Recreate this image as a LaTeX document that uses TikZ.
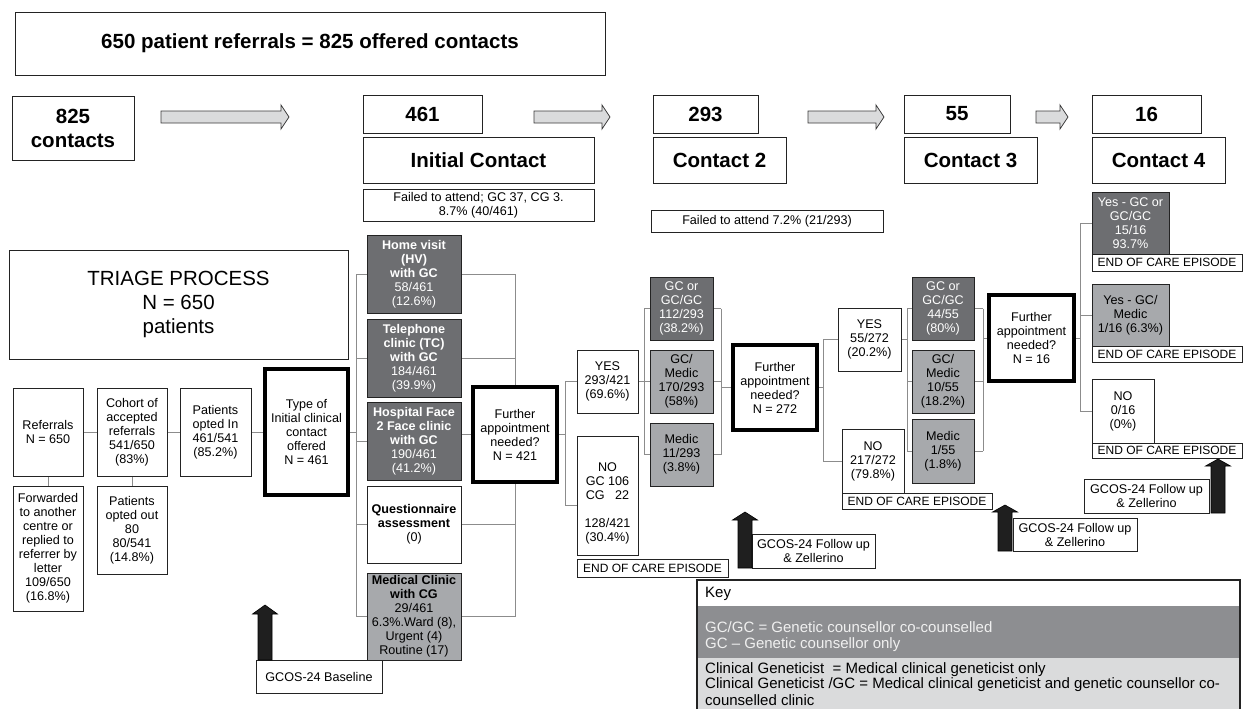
\documentclass[tikz,border=0pt]{standalone}
\usepackage{fontspec}
\setmainfont{Liberation Sans}
\usetikzlibrary{backgrounds,calc}
\definecolor{darkfill}{RGB}{109,110,113}
\definecolor{lightfill}{RGB}{167,169,172}
\definecolor{keydark}{RGB}{141,142,145}
\definecolor{keylight}{RGB}{218,219,220}
\definecolor{keytext}{RGB}{240,240,240}
\definecolor{arrowfill}{RGB}{218,219,220}
\definecolor{arrowedge}{RGB}{60,60,60}
\definecolor{connc}{RGB}{140,140,140}
\definecolor{boxc}{RGB}{35,35,35}
\newcommand{\fsm}{\fontsize{12.6}{14}\selectfont}
\newcommand{\flg}{\fontsize{20.5}{24}\selectfont}
\newcommand{\fend}{\fontsize{12}{14}\selectfont}
\newcommand{\fkey}{\fontsize{15}{17}\selectfont}
\newcommand{\mybox}[7]{\node[#6, minimum width={(#4)-(#2)}, minimum height={(#5)-(#3)}] (#1) at ({((#2)+(#4))/2},{((#3)+(#5))/2}) {#7};}
\newcommand{\garr}[3]{\draw[garrow] (#1,#3-6) -- (#2-8,#3-6) -- (#2-8,#3-12) -- (#2,#3) -- (#2-8,#3+12) -- (#2-8,#3+6) -- (#1,#3+6) -- cycle;}
\newcommand{\barr}[4]{\draw[barrow] (#1-7,#4) -- (#1-7,#3) -- (#1-12.5,#3) -- (#1,#2) -- (#1+12.5,#3) -- (#1+7,#3) -- (#1+7,#4) -- cycle;}
\tikzset{
  bx/.style={draw=boxc, line width=0.9pt, fill=white, inner sep=0pt, outer sep=0pt, align=center, font=\fsm, text=black},
  thk/.style={bx, line width=3.5pt, draw=black},
  dk/.style={bx, fill=darkfill, text=white},
  lt/.style={bx, fill=lightfill},
  hd/.style={bx, font=\flg\bfseries},
  bigtxt/.style={bx, font=\flg},
  endb/.style={bx, font=\fend},
  band/.style={inner sep=0pt, outer sep=0pt, draw=none},
  keytxt/.style={anchor=west, inner sep=0pt, font=\fkey, text=black},
  conn/.style={draw=connc, line width=1pt},
  garrow/.style={draw=arrowedge, fill=arrowfill, line width=0.8pt},
  barrow/.style={draw=black, fill=black!88, line width=0.6pt},
}
\begin{document}
\begin{tikzpicture}[x=1pt,y=-1pt]
\useasboundingbox (0,0) rectangle (1246,709);
% header row
\mybox{top}{15}{12}{605}{75}{hd}{650 patient referrals = 825 offered contacts}
\mybox{c825}{12}{96}{134}{160}{hd}{825\\contacts}
\mybox{n461}{363}{95}{482}{133}{hd}{461}
\mybox{ic}{363}{137}{594}{183}{hd}{Initial Contact}
\mybox{fa1}{363}{189}{594}{221}{bx}{Failed to attend; GC 37, CG 3.\\8.7\% (40/461)}
\mybox{n293}{653}{95}{758}{133}{hd}{293}
\mybox{c2}{653}{137}{786}{183}{hd}{Contact 2}
\mybox{fa2}{651}{210}{883}{232}{bx}{Failed to attend 7.2\% (21/293)}
\mybox{n55}{904}{95}{1010}{133}{hd}{55}
\mybox{c3}{904}{137}{1037}{183}{hd}{Contact 3}
\mybox{n16}{1092}{95}{1201}{133}{hd}{16}
\mybox{c4}{1092}{137}{1225}{183}{hd}{Contact 4}
\garr{161}{289}{117}
\garr{534}{610}{117}
\garr{808}{884}{117}
\garr{1036}{1068}{117}
% triage
\mybox{triage}{9}{250}{348}{359}{bigtxt}{TRIAGE PROCESS\\N = 650\\patients}
\mybox{ref}{13}{388}{83}{476}{bx}{Referrals\\N = 650}
\mybox{coh}{97}{388}{167}{476}{bx}{Cohort of\\accepted\\referrals\\541/650\\(83\%)}
\mybox{optin}{180}{388}{251}{476}{bx}{Patients\\opted In\\461/541\\(85.2\%)}
\mybox{type}{265}{369}{348}{495}{thk}{Type of\\Initial clinical\\contact\\offered\\N = 461}
\mybox{fwd}{13}{486}{83}{611}{bx}{Forwarded\\to another\\centre or\\replied to\\referrer by\\letter\\109/650\\(16.8\%)}
\mybox{optout}{97}{486}{167}{574}{bx}{Patients\\opted out\\80\\80/541\\(14.8\%)}
% initial contact types
\mybox{home}{367}{235}{461}{313}{dk}{\textbf{Home visit}\\\textbf{(HV)}\\\textbf{with GC}\\58/461\\(12.6\%)}
\mybox{tel}{367}{319}{461}{397}{dk}{\textbf{Telephone}\\\textbf{clinic (TC)}\\\textbf{with GC}\\184/461\\(39.9\%)}
\mybox{hosp}{367}{402}{461}{480}{dk}{\textbf{Hospital Face}\\\textbf{2 Face clinic}\\\textbf{with GC}\\190/461\\(41.2\%)}
\mybox{quest}{367}{486}{461}{563}{bx}{\textbf{Questionnaire}\\\textbf{assessment}\\(0)}
\mybox{med}{367}{573}{461}{660}{lt}{\textbf{Medical Clinic}\\\textbf{with CG}\\29/461\\6.3\%.Ward (8),\\Urgent (4)\\Routine (17)}
\mybox{f421}{473}{387}{557}{482}{thk}{Further\\appointment\\needed?\\N = 421}
\mybox{yes1}{577}{350}{638}{413}{bx}{YES\\293/421\\(69.6\%)}
\mybox{no1}{577}{436}{638}{555}{bx}{\rule{0pt}{24pt}NO\\GC 106\\CG~~~22\\~\\128/421\\(30.4\%)}
\mybox{end1}{577}{559}{728}{577}{endb}{END OF CARE EPISODE}
% contact 2
\mybox{gc2}{650}{277}{713}{340}{dk}{GC or\\GC/GC\\112/293\\(38.2\%)}
\mybox{gm2}{650}{350}{713}{413}{lt}{GC/\\Medic\\170/293\\(58\%)}
\mybox{md2}{650}{423}{713}{486}{lt}{Medic\\11/293\\(3.8\%)}
\mybox{f272}{733}{345}{817}{430}{thk}{Further\\appointment\\needed?\\N = 272}
\mybox{yes2}{838}{308}{901}{371}{bx}{YES\\55/272\\(20.2\%)}
\mybox{no2}{842}{429}{904}{493}{bx}{NO\\217/272\\(79.8\%)}
\mybox{end2}{842}{493}{992}{509}{endb}{END OF CARE EPISODE}
% contact 3
\mybox{gc3}{912}{277}{974}{340}{dk}{GC or\\GC/GC\\44/55\\(80\%)}
\mybox{gm3}{912}{350}{974}{413}{lt}{GC/\\Medic\\10/55\\(18.2\%)}
\mybox{md3}{912}{419}{974}{483}{lt}{Medic\\1/55\\(1.8\%)}
\mybox{f16}{989}{295}{1074}{381}{thk}{Further\\appointment\\needed?\\N = 16}
% contact 4
\mybox{y4a}{1092}{192}{1169}{254}{dk}{Yes - GC or\\GC/GC\\15/16\\93.7\%}
\mybox{end3}{1092}{254}{1242}{271}{endb}{END OF CARE EPISODE}
\mybox{y4b}{1092}{284}{1169}{346}{lt}{Yes - GC/\\Medic\\1/16 (6.3\%)}
\mybox{end4}{1092}{346}{1242}{362}{endb}{END OF CARE EPISODE}
\mybox{no4}{1092}{379}{1154}{443}{bx}{NO\\0/16\\(0\%)}
\mybox{end5}{1092}{443}{1242}{458}{endb}{END OF CARE EPISODE}
% GCOS
\mybox{g1}{256}{660}{382}{693}{bx}{GCOS-24 Baseline}
\mybox{g2}{752}{534}{875}{568}{bx}{GCOS-24 Follow up\\\& Zellerino}
\mybox{g3}{1013}{518}{1137}{551}{bx}{GCOS-24 Follow up\\\& Zellerino}
\mybox{g4}{1084}{479}{1209}{513}{bx}{GCOS-24 Follow up\\\& Zellerino}
\barr{265}{605}{614}{660}
\barr{745}{512}{520}{568}
\barr{1005}{505}{512}{551}
\barr{1218}{459}{466}{513}
% key
\mybox{keyh}{697}{580}{1240}{606}{band, fill=white}{}
\mybox{keyd}{697}{606}{1240}{658}{band, fill=keydark}{}
\mybox{keyl}{697}{658}{1240}{709}{band, fill=keylight}{}
\draw[line width=1.2pt, draw=boxc] (keyl.south west) -- (keyh.north west) -- (keyh.north east) -- (keyl.south east);
\draw[line width=2pt, draw=boxc] (keyh.north west) -- (keyh.north east);
\node[keytxt] (kt0) at (705,594) {Key};
\node[keytxt, text=keytext] (kt1) at (705,627) {GC/GC = Genetic counsellor co-counselled};
\node[keytxt, text=keytext] (kt2) at (705,645) {GC – Genetic counsellor only};
\node[keytxt] (kt3) at (705,670) {Clinical Geneticist\ \ = Medical clinical geneticist only};
\node[keytxt] (kt4) at (705,685) {Clinical Geneticist /GC = Medical clinical geneticist and genetic counsellor co-};
\node[keytxt] (kt5) at (705,700) {counselled clinic};
% connectors
\coordinate (L1) at (356,0);
\coordinate (R1) at (515,0);
\coordinate (B2) at (565,0);
\coordinate (B3) at (644,0);
\coordinate (B4) at (721,0);
\coordinate (B5) at (823,0);
\coordinate (B6) at (907,0);
\coordinate (B7) at (983,0);
\coordinate (B8) at (1080,0);
\coordinate (no1s) at ([yshift=-9.5pt]no1.west);
\begin{pgfonlayer}{background}
\fill[white] (0,0) rectangle (1246,709);
\draw[conn] (ref.east) -- (coh.west);
\draw[conn] (coh.east) -- (optin.west);
\draw[conn] (optin.east) -- (type.west);
\draw[conn] (ref.south) -- (fwd.north);
\draw[conn] (coh.south) -- (optout.north);
\draw[conn] (type.east) -- (type.east -| L1);
\draw[conn] (L1 |- home.west) -- (L1 |- med.west);
\foreach \n in {home,tel,hosp,quest,med} \draw[conn] (L1 |- \n.west) -- (\n.west);
\draw[conn] (home.east) -- (home.east -| R1) -- (R1 |- med.east) -- (med.east);
\draw[conn] (tel.east) -- (tel.east -| R1);
\draw[conn] (quest.east) -- (quest.east -| R1);
\draw[conn] (f421.west) -- (f421.west -| hosp.east);
\draw[conn] (f421.east) -- (f421.east -| B2);
\draw[conn] (yes1.west) -- (yes1.west -| B2) -- (no1s -| B2) -- (no1s);
\draw[conn] (yes1.east) -- (yes1.east -| B3);
\draw[conn] (B3 |- gc2.west) -- (B3 |- md2.west);
\draw[conn] (B4 |- gc2.east) -- (B4 |- md2.east);
\foreach \n in {gc2,gm2,md2} {\draw[conn] (B3 |- \n.west) -- (\n.west); \draw[conn] (\n.east) -- (\n.east -| B4);}
\draw[conn] (f272.west) -- (f272.west -| B4);
\draw[conn] (f272.east) -- (f272.east -| B5);
\draw[conn] (yes2.west) -- (yes2.west -| B5) -- (B5 |- no2.west) -- (no2.west);
\draw[conn] (yes2.east) -- (yes2.east -| B6);
\draw[conn] (B6 |- gc3.west) -- (B6 |- md3.west);
\draw[conn] (B7 |- gc3.east) -- (B7 |- md3.east);
\foreach \n in {gc3,gm3,md3} {\draw[conn] (B6 |- \n.west) -- (\n.west); \draw[conn] (\n.east) -- (\n.east -| B7);}
\draw[conn] (f16.west) -- (f16.west -| B7);
\draw[conn] (f16.east) -- (f16.east -| B8);
\draw[conn] (y4a.west) -- (y4a.west -| B8) -- (B8 |- no4.west) -- (no4.west);
\draw[conn] (y4b.west) -- (y4b.west -| B8);
\end{pgfonlayer}
\end{tikzpicture}
\end{document}
